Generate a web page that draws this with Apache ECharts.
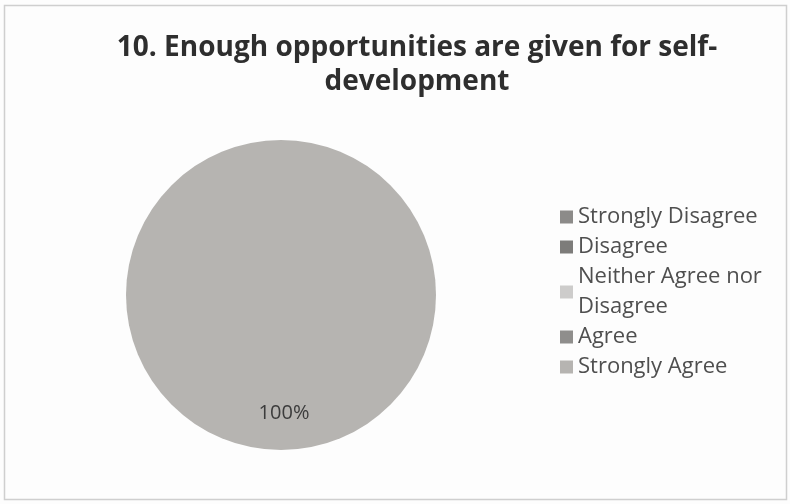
<!DOCTYPE html>
<html lang="en">
<head>
<meta charset="UTF-8">
<title>Self-development opportunities</title>
<script src="https://cdn.jsdelivr.net/npm/echarts@6/dist/echarts.min.js"></script>
<style>
  body { margin: 0; background: #ffffff; }
  #chart { width: 790px; height: 504px; }
</style>
</head>
<body>
<div id="chart"></div>
<script>
// answer categories and their share of responses (%)
const categories = ['Strongly Disagree', 'Disagree', 'Neither Agree nor Disagree', 'Agree', 'Strongly Agree'];
const values = [0, 0, 0, 0, 100];
const colors = ['#8c8b89', '#7d7c7a', '#cdcccb', '#8f8e8c', '#b6b4b1'];

const chart = echarts.init(document.getElementById('chart'));
chart.setOption({
    backgroundColor: '#fdfdfd',
    animation: false,
    color: colors,
    title: {
        text: '10. Enough opportunities are given for self-\ndevelopment',
        left: 412,
        textAlign: 'center',
        top: 26,
        textStyle: {
            fontFamily: 'Open Sans',
            fontWeight: 'bold',
            fontSize: 28,
            lineHeight: 34,
            color: '#2e2e2e'
        }
    },
    graphic: [{
        type: 'rect',
        shape: { x: 4.5, y: 5.5, width: 782, height: 494 },
        style: { fill: 'none', stroke: '#cfcfcf', lineWidth: 1.5 },
        silent: true
    }],
    legend: {
        orient: 'vertical',
        left: 555,
        top: 197,
        itemWidth: 13,
        itemHeight: 13,
        itemGap: 0,
        icon: 'rect',
        formatter: function (name) {
            return name === 'Neither Agree nor Disagree' ? 'Neither Agree nor\nDisagree' : name;
        },
        textStyle: {
            fontFamily: 'Open Sans',
            fontSize: 22,
            lineHeight: 30,
            color: '#4f4f4f',
            padding: [0, 0, 0, 0]
        }
    },
    series: [{
        type: 'pie',
        center: [281, 295],
        radius: 155,
        startAngle: 90,
        clockwise: true,
        stillShowZeroSum: true,
        label: {
            show: true,
            position: 'inside',
            offset: [3, 38],
            formatter: function (p) { return p.value > 0 ? p.percent + '%' : ''; },
            fontFamily: 'Open Sans',
            fontSize: 20,
            color: '#3c3c3c'
        },
        labelLine: { show: false },
        itemStyle: { borderWidth: 0 },
        emphasis: { disabled: true },
        data: categories.map(function (c, i) { return { name: c, value: values[i] }; })
    }]
});
</script>
</body>
</html>
